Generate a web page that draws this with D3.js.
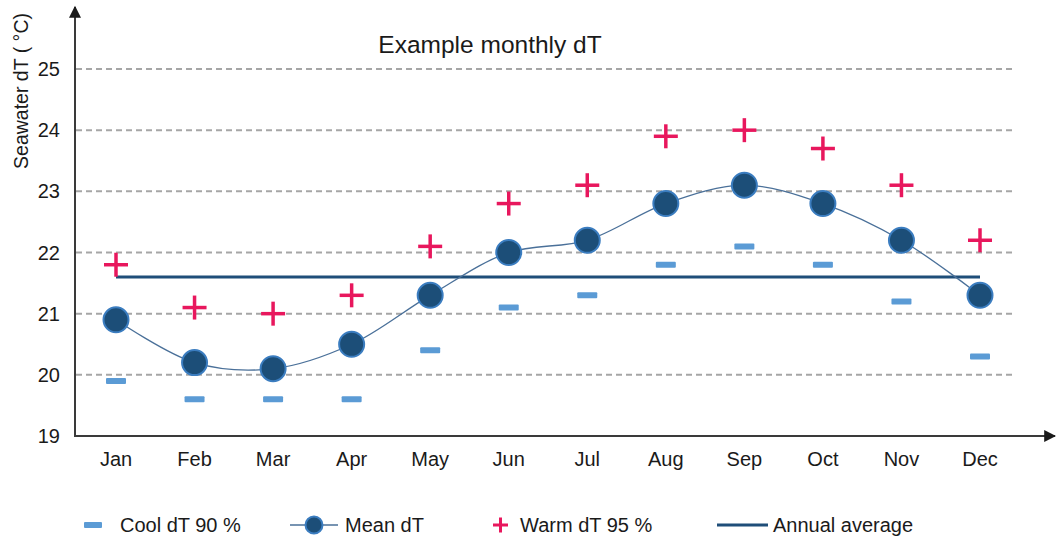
<!DOCTYPE html>
<html>
<head>
<meta charset="utf-8">
<script src="https://cdn.jsdelivr.net/npm/d3@7"></script>
<style>
body { margin: 0; background: #fff; }
text { font-family: "Liberation Sans", Arial, sans-serif; fill: #1a1a1a; }
</style>
</head>
<body>
<svg id="chart" width="1056" height="539"></svg>
<script>
let months = ['Jan','Feb','Mar','Apr','May','Jun','Jul','Aug','Sep','Oct','Nov','Dec']
let meanDT = [20.9, 20.2, 20.1, 20.5, 21.3, 22.0, 22.2, 22.8, 23.1, 22.8, 22.2, 21.3]
let warmDT = [21.8, 21.1, 21.0, 21.3, 22.1, 22.8, 23.1, 23.9, 24.0, 23.7, 23.1, 22.2]
let coolDT = [19.9, 19.6, 19.6, 19.6, 20.4, 21.1, 21.3, 21.8, 22.1, 21.8, 21.2, 20.3]
let annualAvg = 21.6
let yTicks = [19, 20, 21, 22, 23, 24, 25]

let svg = d3.select('#chart')

let x = d3.scalePoint().domain(months).range([116, 980])
let y = d3.scaleLinear().domain([19, 25]).range([436, 69])

// grid lines
svg.selectAll('.grid')
  .data(yTicks.slice(1))
  .enter().append('line')
  .attr('x1', 76).attr('x2', 1015)
  .attr('y1', d => y(d)).attr('y2', d => y(d))
  .style('stroke', '#a6a6a6')
  .style('stroke-width', 2)
  .style('stroke-dasharray', '6,4')

// arrow marker
svg.append('defs').append('marker')
  .attr('id', 'arrow')
  .attr('viewBox', '0 0 10 10')
  .attr('refX', 9).attr('refY', 5)
  .attr('markerWidth', 16).attr('markerHeight', 12)
  .attr('markerUnits', 'userSpaceOnUse')
  .attr('orient', 'auto')
  .append('path').attr('d', 'M0,0 L10,5 L0,10 Z').style('fill', '#1a1a1a')

// axes
svg.append('line')
  .attr('x1', 75).attr('x2', 75).attr('y1', 437).attr('y2', 7)
  .style('stroke', '#3a3a3a').style('stroke-width', 2)
  .attr('marker-end', 'url(#arrow)')
svg.append('line')
  .attr('x1', 74).attr('x2', 1055).attr('y1', 436).attr('y2', 436)
  .style('stroke', '#3a3a3a').style('stroke-width', 2)
  .attr('marker-end', 'url(#arrow)')

// y tick labels
svg.selectAll('.ytick')
  .data(yTicks)
  .enter().append('text')
  .attr('x', 60).attr('y', d => y(d) + 7)
  .attr('text-anchor', 'end')
  .style('font-size', '20px')
  .text(d => d)

// x labels
svg.selectAll('.xtick')
  .data(months)
  .enter().append('text')
  .attr('x', d => x(d)).attr('y', 466)
  .attr('text-anchor', 'middle')
  .style('font-size', '20px')
  .text(d => d)

// y label
svg.append('text')
  .attr('transform', 'translate(28,91) rotate(-90)')
  .attr('text-anchor', 'middle')
  .style('font-size', '19.5px')
  .text('Seawater dT  ( °C)')

// title
svg.append('text')
  .attr('x', 490).attr('y', 53)
  .attr('text-anchor', 'middle')
  .style('font-size', '24.5px')
  .text('Example monthly dT')

// annual average
svg.append('line')
  .attr('x1', x('Jan')).attr('x2', x('Dec'))
  .attr('y1', y(annualAvg)).attr('y2', y(annualAvg))
  .style('stroke', '#1f4e79').style('stroke-width', 3)

// mean line
let line = d3.line()
  .x((d, i) => x(months[i]))
  .y(d => y(d))
  .curve(d3.curveCatmullRom.alpha(0.5))
svg.append('path')
  .datum(meanDT)
  .attr('d', line)
  .style('fill', 'none')
  .style('stroke', '#4a7099')
  .style('stroke-width', 1.3)

// cool markers
svg.selectAll('.cool')
  .data(coolDT)
  .enter().append('rect')
  .attr('x', (d, i) => x(months[i]) - 10)
  .attr('y', d => y(d) - 3)
  .attr('width', 20).attr('height', 6)
  .attr('rx', 1)
  .style('fill', '#5b9bd5')

// warm markers
let warm = svg.selectAll('.warm')
  .data(warmDT)
  .enter().append('g')
  .attr('transform', (d, i) => `translate(${x(months[i])},${y(d)})`)
warm.append('line').attr('x1', -12).attr('x2', 12)
  .style('stroke', '#e8175d').style('stroke-width', 3.5)
warm.append('line').attr('y1', -12).attr('y2', 12)
  .style('stroke', '#e8175d').style('stroke-width', 3.5)

// mean circles
svg.selectAll('.mean')
  .data(meanDT)
  .enter().append('circle')
  .attr('cx', (d, i) => x(months[i]))
  .attr('cy', d => y(d))
  .attr('r', 12.5)
  .style('fill', '#1c4e78')
  .style('stroke', '#3b7dc0')
  .style('stroke-width', 2)

// legend
let ly = 525
let lg = svg.append('g')
lg.append('rect').attr('x', 84).attr('y', ly - 3).attr('width', 18).attr('height', 6).attr('rx', 1).style('fill', '#5b9bd5')
lg.append('text').attr('x', 120).attr('y', ly + 7).style('font-size', '20px').text('Cool dT 90 %')

lg.append('line').attr('x1', 290).attr('x2', 338).attr('y1', ly).attr('y2', ly)
  .style('stroke', '#4a7099').style('stroke-width', 1.3)
lg.append('circle').attr('cx', 314).attr('cy', ly).attr('r', 8.5)
  .style('fill', '#1c4e78').style('stroke', '#3b7dc0').style('stroke-width', 2)
lg.append('text').attr('x', 345).attr('y', ly + 7).style('font-size', '20px').text('Mean dT')

lg.append('line').attr('x1', 493).attr('x2', 508).attr('y1', ly).attr('y2', ly)
  .style('stroke', '#e8175d').style('stroke-width', 3)
lg.append('line').attr('x1', 500.5).attr('x2', 500.5).attr('y1', ly - 7.5).attr('y2', ly + 7.5)
  .style('stroke', '#e8175d').style('stroke-width', 3)
lg.append('text').attr('x', 520).attr('y', ly + 7).style('font-size', '20px').text('Warm dT 95 %')

lg.append('line').attr('x1', 717).attr('x2', 768).attr('y1', ly).attr('y2', ly)
  .style('stroke', '#1f4e79').style('stroke-width', 3)
lg.append('text').attr('x', 773).attr('y', ly + 7).style('font-size', '20px').text('Annual average')
</script>
</body>
</html>
